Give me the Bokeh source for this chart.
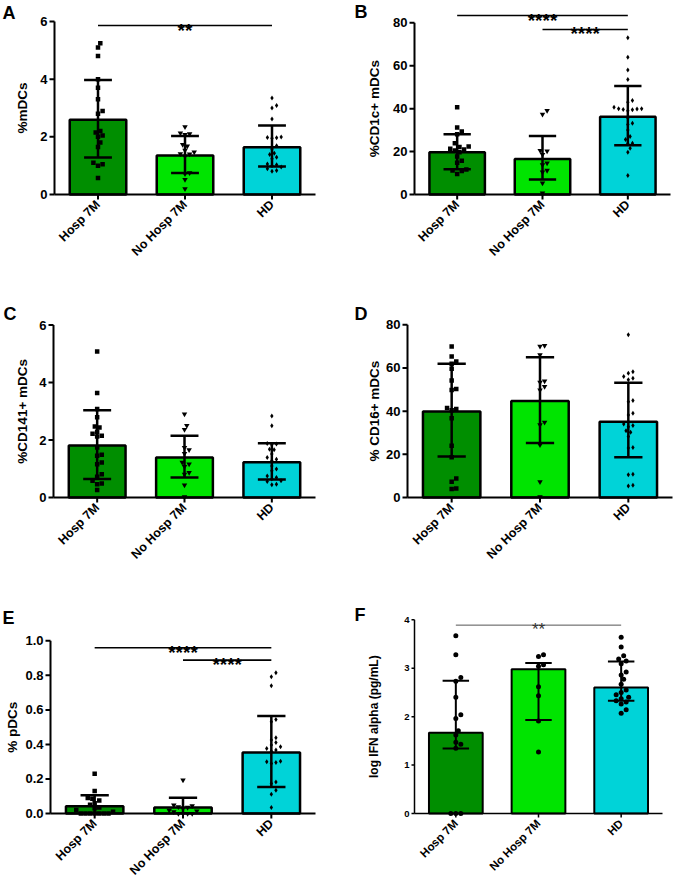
import math
from bokeh.plotting import figure
from bokeh.models import Range1d, FixedTicker
from bokeh.layouts import column, row
from bokeh.embed import file_html
from bokeh.resources import INLINE
from bokeh.core.properties import value

FONT = "Liberation Sans"

groups = ["Hosp 7M", "No Hosp 7M", "HD"]
bar_colors = ["#008E00", "#00E400", "#00D3D8"]

# ---------------- Panel A: %mDCs ----------------
a_ticks = [0, 2, 4, 6]
a_mean = [2.59, 1.35, 1.64]
a_low = [1.28, 0.75, 0.97]
a_high = [3.97, 2.03, 2.39]
a_hosp = [5.25, 5.1, 4.8, 4.0, 3.7, 3.3, 2.9, 2.8, 2.2, 2.15, 2.05, 2.0, 1.8, 1.65, 1.1, 1.05, 1.0, 0.57]
a_nohosp = [2.35, 2.13, 2.1, 2.08, 1.73, 1.68, 1.53, 1.47, 1.41, 1.40, 1.32, 0.75, 0.72, 0.52, 0.2]
a_hd = [3.35, 3.09, 3.0, 2.62, 1.99, 1.98, 1.97, 1.95, 1.69, 1.58, 1.43, 1.39, 1.29, 1.24, 1.06,
        1.03, 1.0, 0.95, 0.89, 0.83, 0.81]

# ---------------- Panel B: %CD1c+ mDCs ----------------
b_ticks = [0, 20, 40, 60, 80]
b_mean = [19.7, 16.5, 36.2]
b_low = [11.8, 7.0, 23.0]
b_high = [28.1, 27.3, 50.5]
b_hosp = [40.7, 31.2, 29.4, 28.1, 23.9, 22.4, 22.1, 21.3, 21.0, 20.5, 19.7, 17.7, 15.7, 14.8, 11.7, 11.2, 11.0, 9.6]
b_nohosp = [39.1, 37.4, 20.5, 20.2, 18.6, 14.6, 13.8, 11.2, 10.4, 5.3, 0.6]
b_hd = [73.0, 64.0, 58.0, 53.6, 43.8, 43.0, 40.7, 40.0, 40.0, 39.8, 39.6, 39.5, 39.0, 35.7, 33.2, 32.6,
        30.1, 27.0, 25.6, 23.9, 23.6, 21.6, 19.7, 8.9]

# ---------------- Panel C: %CD141+ mDCs ----------------
c_ticks = [0, 2, 4, 6]
c_mean = [1.81, 1.39, 1.23]
c_low = [0.64, 0.70, 0.63]
c_high = [3.04, 2.15, 1.89]
c_hosp = [5.08, 3.64, 3.08, 2.79, 2.47, 2.44, 2.29, 2.22, 2.15, 2.12, 1.74, 1.49, 1.45, 1.22, 1.16,
          0.81, 0.72, 0.58, 0.49, 0.46, 0.26]
c_nohosp = [2.9, 2.5, 2.36, 1.74, 1.66, 1.53, 1.22, 1.16, 1.08, 0.87, 0.81, 0.43, 0.02]
c_hd = [2.84, 2.5, 1.88, 1.86, 1.84, 1.68, 1.66, 1.51, 1.39, 1.33, 1.28, 1.10, 0.99, 0.93, 0.75,
        0.70, 0.64, 0.58, 0.56, 0.46, 0.44]

# ---------------- Panel D: % CD16+ mDCs ----------------
d_ticks = [0, 20, 40, 60, 80]
d_mean = [39.8, 44.7, 35.1]
d_low = [19.0, 25.2, 18.6]
d_high = [61.9, 65.0, 53.2]
d_hosp = [70.0, 65.3, 63.0, 61.9, 59.6, 54.2, 50.3, 49.8, 41.5, 41.0, 40.4, 36.7, 24.0, 18.6, 8.8, 7.3, 4.2, 3.9]
d_nohosp = [70.4, 70.0, 66.1, 53.9, 53.4, 51.4, 49.8, 34.8, 33.7, 24.4, 7.3, 0.3]
d_hd = [75.4, 58.2, 57.6, 56.0, 55.2, 54.5, 44.9, 44.4, 39.0, 38.2, 34.0, 33.3, 32.8, 30.9, 30.2,
        28.2, 23.2, 22.9, 10.8, 10.5, 5.7, 5.3]

# ---------------- Panel E: % pDCs ----------------
e_ticks = [0.0, 0.2, 0.4, 0.6, 0.8, 1.0]
e_mean = [0.042, 0.035, 0.353]
e_low = [-0.02, -0.02, 0.154]
e_high = [0.106, 0.091, 0.564]
e_hosp = [0.23, 0.13, 0.09, 0.085, 0.075, 0.06, 0.05, 0.035, 0.03, 0.02, 0.01, 0.0, 0.0, 0.0, 0.0, 0.0, 0.0, 0.0]
e_nohosp = [0.193, 0.048, 0.044, 0.039, 0.035, 0.028, 0.019, 0.014, 0.01, 0.0, 0.0, 0.0, 0.0]
e_hd = [0.815, 0.792, 0.74, 0.544, 0.531, 0.438, 0.425, 0.411, 0.396, 0.386, 0.376, 0.367, 0.361,
        0.303, 0.299, 0.295, 0.29, 0.183, 0.174, 0.135, 0.112, 0.035]

# ---------------- Panel F: log IFN alpha ----------------
f_ticks = [0, 1, 2, 3, 4]
f_mean = [1.67, 2.98, 2.60]
f_low = [1.34, 1.93, 2.33]
f_high = [2.74, 3.11, 3.14]
f_hosp = [3.67, 3.28, 2.81, 2.73, 2.40, 2.04, 1.96, 1.71, 1.62, 1.47, 1.43, 1.35, 0.0, 0.0, 0.0]
f_nohosp = [3.28, 3.24, 3.07, 3.04, 2.62, 2.43, 1.91, 1.27]
f_hd = [3.64, 3.44, 3.26, 3.19, 3.15, 3.09, 2.92, 2.86, 2.77, 2.67, 2.55, 2.50, 2.45, 2.40, 2.37,
        2.33, 2.30, 2.26, 2.14, 2.07]


def swarm(vals, ppu, d, catw):
    """Deterministic beeswarm offsets (category units) so markers don't overlap."""
    order = sorted(range(len(vals)), key=lambda i: vals[i])
    placed = []
    res = [0.0] * len(vals)
    cands = [0.0]
    for j in range(1, 60):
        cands += [j * d * 0.5, -j * d * 0.5]
    for i in order:
        y = vals[i] * ppu
        for c in cands:
            if all((c - px) ** 2 + (y - py) ** 2 >= d * d for px, py in placed):
                break
        placed.append((c, y))
        res[i] = c / catw
    return res


COL_X = [0, 337]
COL_W = [337, 336]
ROW_Y = [0, 290, 585]
ROW_H = [290, 295, 298]
ROW_AXIS = [194, 207, 228]   # x-axis (y = 0) position inside each row
EXT = 7                      # frame room below y = 0 (for the "0" tick labels and ticks)


def panel(letter, ylabel, ticks, tick_fmt, means, lows, highs, pts, ci, ri, left, fw, ppu,
          ylab_off, brackets, letter_pos, small=False):
    W = COL_W[ci]
    H = ROW_H[ri]
    fh = ROW_AXIS[ri]
    catw = fw / 3.0
    xr = Range1d(-left / catw, (W - left) / catw)
    yr = Range1d(-EXT / ppu, fh / ppu)
    p = figure(x_range=xr, y_range=yr, frame_width=W, frame_height=fh + EXT,
               min_border_left=0, min_border_right=0, min_border_top=0,
               min_border_bottom=H - fh - EXT, y_axis_location=None,
               output_backend="svg", toolbar_location=None, tools="")
    p.outline_line_color = None
    p.xgrid.visible = False
    p.ygrid.visible = False

    lw_bar = 2.0 if small else 2.5
    lw_axis = 1.5 if small else 2.0
    xpos = [i + 0.5 for i in range(len(groups))]

    p.vbar(x=xpos, top=means, width=0.65, fill_color=bar_colors, line_color="black",
           line_width=lw_bar)

    # error bars (drawn down to the axis at most, like the original)
    cap = 0.16
    lows_vis = [max(v, 0.0) for v in lows]
    p.segment(x0=xpos, x1=xpos, y0=lows_vis, y1=highs, line_color="black", line_width=lw_bar)
    p.segment(x0=[x - cap for x in xpos], x1=[x + cap for x in xpos], y0=highs, y1=highs,
              line_color="black", line_width=lw_bar)
    lx0 = [x - cap for x, v in zip(xpos, lows) if v > 0]
    lx1 = [x + cap for x, v in zip(xpos, lows) if v > 0]
    lyv = [v for v in lows if v > 0]
    p.segment(x0=lx0, x1=lx1, y0=lyv, y1=lyv, line_color="black", line_width=lw_bar)

    if small:
        markers = ["circle", "circle", "circle"]
        sizes = [5, 5, 5]
        dd = 5.0
    else:
        markers = ["square", "inverted_triangle", "diamond"]
        sizes = [4.5, 5.5, 5.0]
        dd = 4.6
    for i, vals in enumerate(pts):
        offs = swarm(vals, ppu, dd, catw)
        xs = [xpos[i] + o for o in offs]
        p.scatter(x=xs, y=vals, marker=markers[i], size=sizes[i], color="black", line_width=0)

    # significance brackets
    for (g0, g1, yl, stars) in brackets:
        p.segment(x0=[xpos[g0]], x1=[xpos[g1]], y0=[yl], y1=[yl],
                  line_color="#555555" if small else "black",
                  line_width=1.0 if small else 1.6)
        p.text(x=[(xpos[g0] + xpos[g1]) / 2], y=[yl - 4.5 / ppu], text=[stars],
               text_align="center", text_baseline="alphabetic", text_font=value(FONT),
               text_font_size="17px" if small else "19px",
               text_font_style="normal" if small else "bold",
               text_color="#333333" if small else "black")

    # x axis line and ticks at y = 0
    xtick_px = 4 if small else 5
    p.segment(x0=[0], x1=[len(groups)], y0=[0], y1=[0], line_color="black", line_width=lw_axis)
    p.segment(x0=xpos, x1=xpos, y0=[0] * 3, y1=[-xtick_px / ppu] * 3, line_color="black",
              line_width=lw_axis)

    # category labels from the library's axis (line and ticks hidden, drawn above at y = 0)
    xa = p.xaxis[0]
    xa.ticker = FixedTicker(ticks=xpos)
    xa.major_label_overrides = {x: g for x, g in zip(xpos, groups)}
    xa.axis_line_color = None
    xa.major_tick_line_color = None
    xa.minor_tick_line_color = None
    xa.major_tick_out = 0
    xa.major_tick_in = 0
    xa.major_label_orientation = math.pi / 4
    xa.major_label_text_font = FONT
    xa.major_label_text_font_style = "bold"
    xa.major_label_text_font_size = "11.5px" if small else "12.5px"
    xa.major_label_text_color = "black"
    xa.major_label_standoff = 1

    # y axis
    tick_px = 3 if small else 5
    p.segment(x0=[0], x1=[0], y0=[ticks[0]], y1=[ticks[-1]], line_color="black",
              line_width=lw_axis)
    p.segment(x0=[0] * len(ticks), x1=[-tick_px / catw] * len(ticks), y0=ticks, y1=ticks,
              line_color="black", line_width=lw_axis)
    p.text(x=[-(tick_px + 2) / catw] * len(ticks), y=ticks,
           text=[tick_fmt.format(t) for t in ticks], text_align="right",
           text_baseline="middle", text_font=value(FONT), text_font_style="bold",
           text_font_size="9.5px" if small else "13px", text_color="black")
    p.text(x=[-ylab_off / catw], y=[(ticks[0] + ticks[-1]) / 2], text=[ylabel],
           angle=math.pi / 2, text_align="center", text_baseline="middle",
           text_font=value(FONT), text_font_style="bold",
           text_font_size="12px" if small else "13.5px", text_color="black")

    # panel letter
    lx, ly = letter_pos
    x_loc = lx - COL_X[ci] - left
    y_loc = (ly - 3) - ROW_Y[ri]
    p.text(x=[x_loc / catw], y=[(fh - y_loc) / ppu], text=[letter], text_align="left",
           text_baseline="top", text_font=value(FONT), text_font_style="bold",
           text_font_size="18px", text_color="black")
    return p


pA = panel("A", "%mDCs", a_ticks, "{:.0f}", a_mean, a_low, a_high, [a_hosp, a_nohosp, a_hd],
           0, 0, 54, 261, 173 / 6, 32, [(0, 2, 5.86, "**")], (2, 5))
pB = panel("B", "%CD1c+ mDCs", b_ticks, "{:.0f}", b_mean, b_low, b_high, [b_hosp, b_nohosp, b_hd],
           1, 0, 77, 256, 171.7 / 80, 40,
           [(0, 2, 83.4, "****"), (1, 2, 76.9, "****")], (354, 4))
pC = panel("C", "%CD141+ mDCs", c_ticks, "{:.0f}", c_mean, c_low, c_high, [c_hosp, c_nohosp, c_hd],
           0, 1, 53, 262, 172.4 / 6, 31, [], (3, 306))
pD = panel("D", "% CD16+ mDCs", d_ticks, "{:.0f}", d_mean, d_low, d_high, [d_hosp, d_nohosp, d_hd],
           1, 1, 70, 265, 172.7 / 80, 33, [], (354, 306))
pE = panel("E", "% pDCs", e_ticks, "{:.1f}", e_mean, e_low, e_high, [e_hosp, e_nohosp, e_hd],
           0, 2, 50, 265, 172.7, 38,
           [(0, 2, 0.96, "****"), (1, 2, 0.888, "****")], (2, 610))
pF = panel("F", "log IFN alpha (pg/mL)", f_ticks, "{:.0f}", f_mean, f_low, f_high,
           [f_hosp, f_nohosp, f_hd], 1, 2, 77, 248, 193.7 / 4, 41,
           [(0, 2, 3.89, "**")], (354, 607), small=True)

layout = column(row(pA, pB), row(pC, pD), row(pE, pF))

open("out.html", "w").write(file_html(layout, INLINE))
